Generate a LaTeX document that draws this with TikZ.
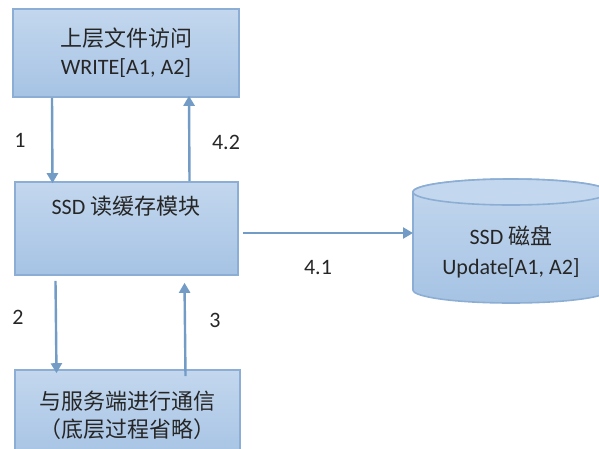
\documentclass[tikz,border=0pt]{standalone}
\usepackage{fontspec}
\setmainfont{Carlito}
\newfontfamily\cjk{Noto Sans CJK SC}
\usetikzlibrary{arrows.meta,shapes.geometric}
\definecolor{boxtop}{HTML}{C3D7EE}
\definecolor{boxbot}{HTML}{A6C3E4}
\definecolor{boxline}{HTML}{8CAED4}
\definecolor{flow}{HTML}{729BC6}
\definecolor{ink}{HTML}{262626}
\tikzset{
  x=1pt, y=-1pt,
  procbox/.style={draw=boxline, line width=1.6pt, top color=boxtop, bottom color=boxbot,
    text=ink, align=center, font=\fontsize{22}{28}\selectfont, inner sep=0pt},
  flowarrow/.style={draw=flow, line width=2.4pt, -{Triangle[width=11pt,length=10pt]}},
  steplabel/.style={text=ink, font=\fontsize{22}{26}\selectfont, inner sep=0pt},
}
\begin{document}
\begin{tikzpicture}
\useasboundingbox (0,0) rectangle (599,448);
\begin{scope}
\clip (0,0) rectangle (599,448);
% processing boxes
\node[procbox, minimum width=226pt, minimum height=88pt] (top) at (126,53)
  {{\cjk 上层文件访问}\\WRITE[A1, A2]};
\node[procbox, minimum width=223pt, minimum height=93pt] (ssd) at (126.5,228.5) {};
\node[text=ink, font=\fontsize{22}{28}\selectfont, inner sep=0pt] (ssdtext) at (126,206) {SSD {\cjk 读缓存模块}};
\node[procbox, minimum width=225pt, minimum height=90pt] (srv) at (127.5,415)
  {{\cjk 与服务端进行通信}\\{\cjk （底层过程省略）}};
% disk drawn as a cylinder
\path[draw=boxline, line width=1.6pt, top color=boxtop, bottom color=boxbot]
  (413,192) -- (413,290) arc[start angle=180, end angle=360, x radius=98, y radius=-13]
  -- (609,192) arc[start angle=0, end angle=180, x radius=98, y radius=-13] -- cycle;
\path[draw=boxline, line width=1.6pt, fill=boxtop]
  (511,192) ellipse[x radius=98, y radius=13];
\node[text=ink, align=center, font=\fontsize{22}{30}\selectfont, inner sep=0pt] (disk) at (511,252)
  {SSD {\cjk 磁盘}\\Update[A1, A2]};
\coordinate (diskin) at (413,233);
\end{scope}
% connectors
\draw[flowarrow] ([xshift=-74pt]top.south) -- ([xshift=-74pt,yshift=-2pt]ssd.north);
\draw[flowarrow] ([xshift=63pt]ssd.north) -- ([xshift=63pt,yshift=2pt]top.south);
\draw[flowarrow] (ssd.east |- diskin) ++(4,0) -- (diskin);
\draw[flowarrow] ([xshift=-71pt,yshift=-5pt]ssd.south) -- ([xshift=-71pt,yshift=-4pt]srv.north);
\draw[flowarrow] ([xshift=58pt,yshift=-7pt]srv.north) -- ([xshift=58pt,yshift=-7pt]ssd.south);
% step labels
\node[steplabel] (l1) at (20,140) {1};
\node[steplabel] (l42) at (226,142) {4.2};
\node[steplabel] (l41) at (318,267) {4.1};
\node[steplabel] (l2) at (18,317) {2};
\node[steplabel] (l3) at (215,320) {3};
\end{tikzpicture}
\end{document}
